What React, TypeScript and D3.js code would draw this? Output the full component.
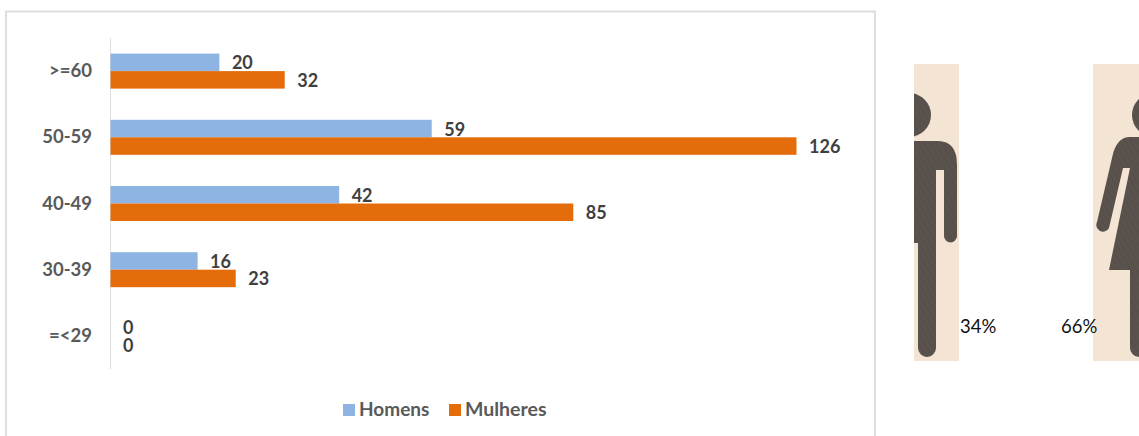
import React from "react";
import * as d3 from "d3";

const categories = [">=60", "50-59", "40-49", "30-39", "=<29"];
const homens = [20, 59, 42, 16, 0];
const mulheres = [32, 126, 85, 23, 0];
const seriesNames = ["Homens", "Mulheres"];
const seriesColors = ["#8eb4e3", "#e46c0a"];
const shares = ["34%", "66%"];

const W = 1139, H = 436;
const FONT = "Lato, 'Open Sans', sans-serif";

export default function App() {
  const x = d3.scaleLinear().domain([0, 126]).range([110.5, 796.5]);
  const y = d3.scaleBand().domain(categories).range([38, 369]);
  const inner = d3.scaleBand().domain(seriesNames).range([0, 35]);
  const seriesValues = [homens, mulheres];
  const off = (y.bandwidth() - 35) / 2;

  return (
    <svg width={W} height={H} viewBox={`0 0 ${W} ${H}`}
      style={{ position: "absolute", left: 0, top: 0, display: "block", background: "#fff" }}>
      <defs>
        <clipPath id="manClip"><rect x={914} y={64} width={45} height={297} /></clipPath>
        <clipPath id="womanClip"><rect x={1093} y={64} width={46} height={297} /></clipPath>
        <pattern id="hatch" width="5" height="5" patternUnits="userSpaceOnUse" patternTransform="rotate(60)">
          <rect width="5" height="5" fill="#5a534d" />
          <line x1="0" y1="1" x2="5" y2="1" stroke="#514b46" strokeWidth="1" />
        </pattern>
      </defs>

      {/* chart frame */}
      <path d="M6,436 V11.5 H875 V436" fill="none" stroke="#dedede" strokeWidth={2} />

      {/* axis line */}
      <line x1={110.5} x2={110.5} y1={38} y2={369} stroke="#dedede" strokeWidth={1} />

      {categories.map((c) => (
        <text key={c} x={92} y={y(c)! + y.bandwidth() / 2 + 6} textAnchor="end"
          fontFamily={FONT} fontSize={18.5} fontWeight={700} fill="#595959">{c}</text>
      ))}

      {seriesNames.map((s, si) =>
        categories.map((c, i) => {
          const v = seriesValues[si][i];
          const top = y(c)! + off + inner(s)!;
          return (
            <g key={s + c}>
              {v > 0 && (
                <rect x={x(0)} y={top} width={x(v) - x(0)} height={inner.bandwidth()} fill={seriesColors[si]} />
              )}
              <text x={x(v) + 12.5} y={top + inner.bandwidth() / 2 + 7}
                fontFamily={FONT} fontSize={18} fontWeight={700} fill="#404040">{v}</text>
            </g>
          );
        })
      )}

      {/* legend */}
      <rect x={343} y={404} width={12} height={12} fill={seriesColors[0]} />
      <text x={359} y={416} fontFamily={FONT} fontSize={19} fontWeight={700} fill="#595959">{seriesNames[0]}</text>
      <rect x={449} y={404} width={12} height={12} fill={seriesColors[1]} />
      <text x={465} y={416} fontFamily={FONT} fontSize={19.5} fontWeight={700} fill="#595959">{seriesNames[1]}</text>

      {/* man pictogram */}
      <rect x={914} y={64} width={45} height={297} fill="#f4e4d3" />
      <g clipPath="url(#manClip)" fill="url(#hatch)">
        <circle cx={909} cy={115} r={22} />
        <path d="M900,141 H938 Q957,141 957,165 V236 A6.5,6.5 0 0 1 944,236 V170 H936 V348 A9,9 0 0 1 918,348 V243 H900 Z" />
      </g>

      {/* woman pictogram */}
      <rect x={1093} y={64} width={46} height={297} fill="#f4e4d3" />
      <g clipPath="url(#womanClip)" fill="url(#hatch)">
        <circle cx={1154} cy={115} r={22} />
        <path d="M1150,137 H1130 Q1116,137 1112,158 L1097,222 A6.5,6.5 0 0 0 1109,228 L1123,168 H1130 L1109,270 H1130 V348 A9,9 0 0 0 1148,348 V360 H1150 Z" />
      </g>

      <text x={960} y={333} fontFamily={FONT} fontSize={18.5} fill="#111">{shares[0]}</text>
      <text x={1061} y={333} fontFamily={FONT} fontSize={18.5} fill="#111">{shares[1]}</text>
    </svg>
  );
}
